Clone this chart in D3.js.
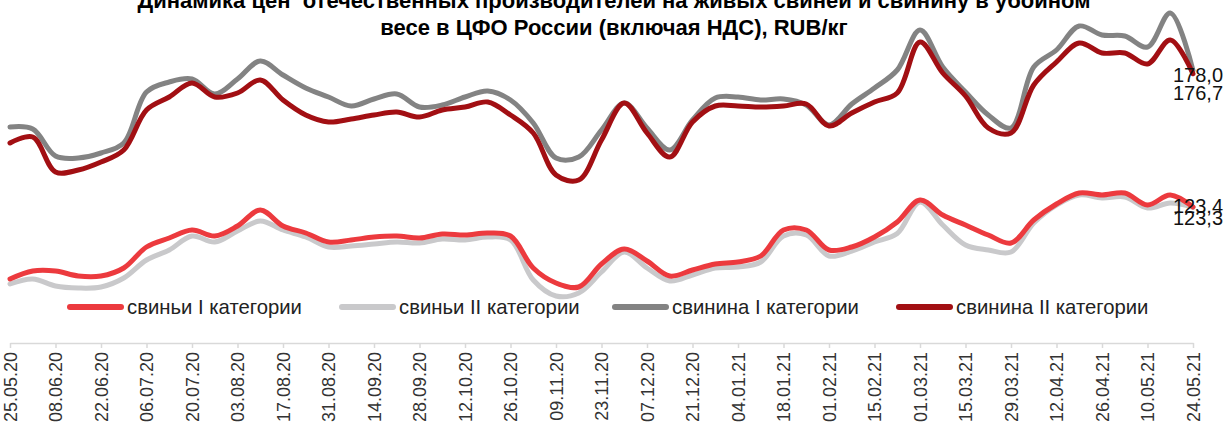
<!DOCTYPE html>
<html>
<head>
<meta charset="utf-8">
<script src="https://cdn.jsdelivr.net/npm/d3@7"></script>
<style>
body { margin: 0; background: #fff; }
text { font-family: "Liberation Sans", Arial, sans-serif; }
</style>
</head>
<body>
<div id="graph"></div>
<script>
// weekly dates (categories)
var weeks = ["25.05.20","01.06.20","08.06.20","15.06.20","22.06.20","29.06.20","06.07.20","13.07.20","20.07.20","27.07.20",
    "03.08.20","10.08.20","17.08.20","24.08.20","31.08.20","07.09.20","14.09.20","21.09.20","28.09.20","05.10.20",
    "12.10.20","19.10.20","26.10.20","02.11.20","09.11.20","16.11.20","23.11.20","30.11.20","07.12.20","14.12.20",
    "21.12.20","28.12.20","04.01.21","11.01.21","18.01.21","25.01.21","01.02.21","08.02.21","15.02.21","22.02.21",
    "01.03.21","08.03.21","15.03.21","22.03.21","29.03.21","05.04.21","12.04.21","19.04.21","26.04.21","03.05.21",
    "10.05.21","17.05.21","24.05.21"];

// tick labels on the axis (every second week)
var tickLabels = ["25.05.20","08.06.20","22.06.20","06.07.20","20.07.20","03.08.20","17.08.20","31.08.20","14.09.20",
    "28.09.20","12.10.20","26.10.20","09.11.20","23.11.20","07.12.20","21.12.20","04.01.21","18.01.21","01.02.21",
    "15.02.21","01.03.21","15.03.21","29.03.21","12.04.21","26.04.21","10.05.21","24.05.21"];

var seriesNames = ["свиньи I категории", "свиньи II категории", "свинина I категории", "свинина II категории"];

// RUB/кг
var pigs1 = [94.6,97.8,97.8,95.8,95.8,99.0,107.4,111.0,114.2,111.8,115.8,122.2,115.8,113.0,109.4,110.2,111.4,111.8,111.0,112.6,
    112.2,113.0,111.8,99.0,93.0,91.4,100.6,106.6,101.8,95.8,98.2,100.6,101.4,103.8,114.2,114.2,106.2,107.4,111.4,117.4,
    126.2,120.2,116.2,112.2,109.0,118.2,124.6,129.0,128.2,129.0,124.2,128.2,123.4];
var pigs2 = [92.6,94.6,91.8,91.0,91.4,95.0,102.2,106.2,111.8,109.4,113.8,117.8,114.2,111.4,107.4,107.8,108.6,109.4,109.0,110.6,
    110.2,111.4,110.2,94.2,87.8,89.0,97.4,105.4,99.0,93.8,96.2,99.0,99.4,101.4,111.8,112.2,103.8,105.8,109.4,112.8,
    125.4,116.2,108.2,106.2,105.4,117.0,124.2,128.2,127.0,127.4,123.0,125.0,123.3];
var pork1 = [155.4,154.6,143.8,143.0,145.0,149.0,169.4,173.4,174.6,168.6,174.6,181.8,176.2,171.0,167.4,163.8,166.6,168.6,163.4,164.2,
    167.4,169.8,166.2,157.0,143.0,143.4,154.2,165.0,155.0,146.2,158.2,167.0,167.4,166.2,166.6,164.2,156.2,164.6,171.0,178.2,
    194.2,179.4,169.4,160.2,155.0,179.4,186.2,195.8,192.2,191.8,187.4,201.0,178.0];
var pork2 = [149.0,151.4,137.4,138.2,141.4,146.2,162.2,167.4,173.0,167.4,169.0,174.2,166.2,160.2,157.4,158.6,160.2,161.4,159.4,162.2,
    163.4,165.4,160.2,153.0,136.2,134.2,150.2,165.0,153.0,143.4,157.4,163.8,163.8,163.4,163.8,164.6,155.8,161.0,165.4,169.0,
    189.4,177.0,167.8,155.0,153.0,172.2,181.4,189.0,185.0,185.0,180.6,190.2,176.7];

var colors = ["#ec3a3e", "#c9c9cb", "#838383", "#a20f13"];

var w = 1229, h = 428;

var svg = d3.select("#graph").append("svg")
    .attr("width", w)
    .attr("height", h);

svg.append("rect").attr("width", w).attr("height", h).attr("fill", "#fff");

var x = d3.scalePoint().domain(weeks).range([10, 1193]);
var y = d3.scaleLinear().domain([70, 205]).range([340.5, 3]);

// x axis
var axis = svg.append("g")
    .attr("transform", "translate(0,343)")
    .call(d3.axisBottom(x).tickValues(tickLabels).tickSize(5).tickSizeOuter(0).tickPadding(0));
axis.select(".domain").attr("stroke", "#d9d9d9").attr("stroke-width", 1.5);
axis.selectAll(".tick line").attr("stroke", "#d9d9d9").attr("stroke-width", 1.5);
axis.selectAll(".tick text")
    .attr("fill", "#333")
    .attr("font-size", 18)
    .attr("font-family", "Liberation Sans, Arial, sans-serif")
    .attr("text-anchor", "end")
    .attr("transform", "translate(0,9) rotate(-90)")
    .attr("x", 0)
    .attr("y", 0)
    .attr("dy", "0.35em");

var line = d3.line()
    .x(function(d, i) { return x(weeks[i]); })
    .y(function(d) { return y(d); })
    .curve(d3.curveCatmullRom.alpha(0.5));

// draw order: light grey under red, grey under dark red
var order = [[pigs2, 1], [pigs1, 0], [pork1, 2], [pork2, 3]];
order.forEach(function(o) {
    svg.append("path")
        .attr("d", line(o[0]))
        .attr("fill", "none")
        .attr("stroke", colors[o[1]])
        .attr("stroke-width", 5)
        .attr("stroke-linejoin", "round")
        .attr("stroke-linecap", "round");
});

// end labels (they overlap in the original too)
var last = weeks.length - 1;
var endLabels = [[pork1, 11.5], [pork2, 26], [pigs1, 6], [pigs2, 18]];
endLabels.forEach(function(o) {
    var v = o[0][last];
    svg.append("text")
        .attr("x", x(weeks[last]) - 20)
        .attr("y", y(v) + o[1])
        .attr("font-size", 20)
        .attr("fill", "#111")
        .text(d3.format(".1f")(v).replace(".", ","));
});

// legend
var legX = [68, 340, 613, 897];
var legend = svg.append("g").attr("transform", "translate(0,307)");
seriesNames.forEach(function(name, i) {
    legend.append("line")
        .attr("x1", legX[i] + 2).attr("x2", legX[i] + 53)
        .attr("y1", 0).attr("y2", 0)
        .attr("stroke", colors[i])
        .attr("stroke-width", 6)
        .attr("stroke-linecap", "round");
    legend.append("text")
        .attr("x", legX[i] + 59)
        .attr("y", 0)
        .attr("dy", "0.36em")
        .attr("font-size", 20.3)
        .attr("fill", "#222")
        .text(name);
});

// title
var title = ["Динамика цен  отечественных производителей на живых свиней и свинину в убойном",
    "весе в ЦФО России (включая НДС), RUB/кг"];
svg.append("text")
    .attr("x", 614)
    .attr("text-anchor", "middle")
    .attr("font-size", 22)
    .attr("font-weight", "bold")
    .attr("fill", "#000")
    .selectAll("tspan")
    .data(title)
    .enter().append("tspan")
        .attr("x", 614)
        .attr("y", function(d, i) { return 8 + i * 27; })
        .attr("xml:space", "preserve")
        .text(function(d) { return d; });
</script>
</body>
</html>
